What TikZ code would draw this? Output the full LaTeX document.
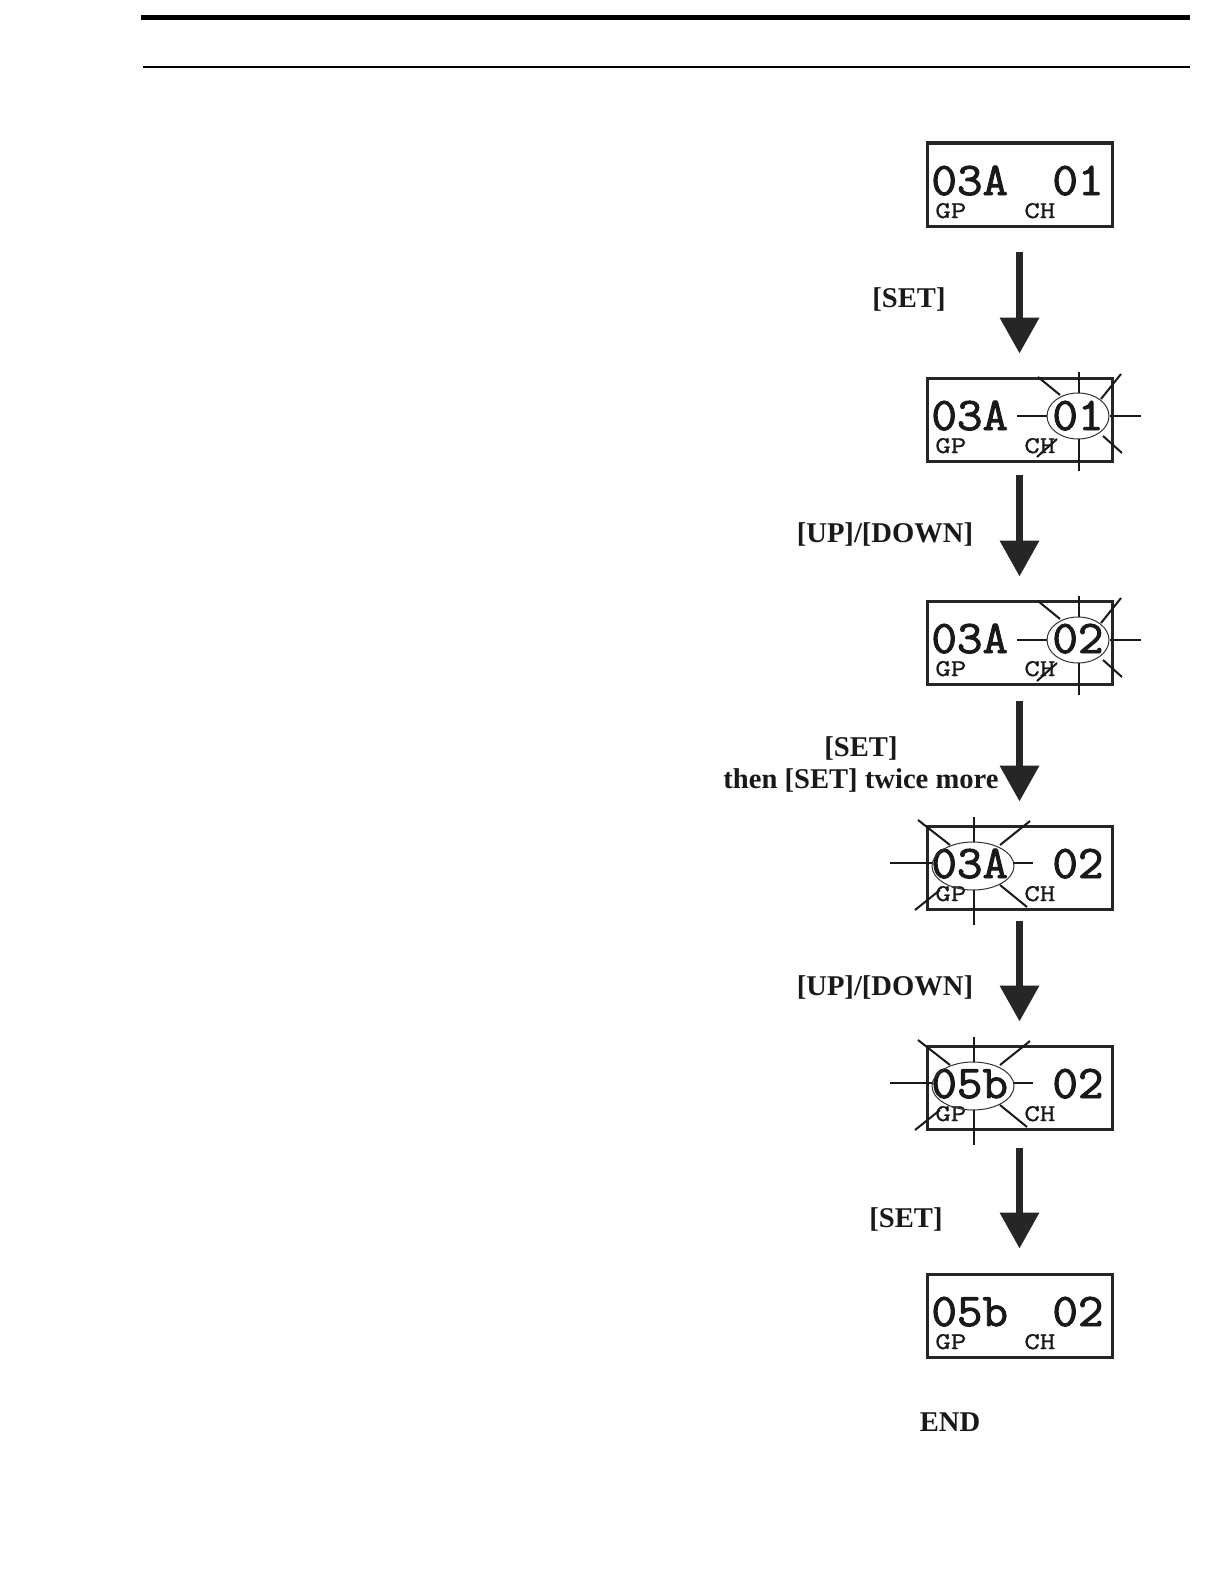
\documentclass[tikz,border=0pt]{standalone}
\usepackage{fontspec}
\setmainfont{Liberation Serif}
\newfontfamily\lcdfont{Latin Modern Mono}[FakeBold=2, FakeStretch=1.06]
\newfontfamily\lcdsmall{Latin Modern Mono}[FakeStretch=1.25, FakeBold=1]
\usetikzlibrary{arrows.meta}
\tikzset{
  lcd/.style={draw=black!85, line width=1.5pt, minimum width=92.5pt, minimum height=41.5pt, inner sep=0pt},
  big/.style={font=\lcdfont\fontsize{23.4pt}{23.4pt}\selectfont, inner sep=0pt, anchor=base west, text=black!90, text depth=0pt},
  small/.style={font=\lcdsmall\fontsize{12pt}{12pt}\selectfont, inner sep=0pt, anchor=base west, text=black!90, text height=7.2pt, text depth=0pt},
  lbl/.style={font=\bfseries\fontsize{14.3pt}{16pt}\selectfont, inner sep=0pt, anchor=base, text=black!90},
  flow/.style={line width=3.5pt, draw=black!85, -{Triangle[width=19pt,length=18pt]}},
  ray/.style={line width=1pt, draw=black!90},
  halo/.style={line width=0.5pt, draw=black!80}
}
\newcommand\lcdpanel[4]{%
  \node[lcd] (#1) at (1019.5,#2+41.5) {};
  \node[big] (#1-l) at (931,#2+52) {#3};
  \node[big] (#1-r) at (1052,#2+52) {#4};
  \node[small] (#1-gp) at (935,#2+75) {GP};
  \node[small] (#1-ch) at (1024,#2+75) {CH};}
\newcommand\blinkright[2]{%
  \begin{scope}[shift={(#1,#2)}]
    \draw[halo] (0,0) ellipse [x radius=15.5pt, y radius=11.5pt];
    \draw[ray] (-61,0) -- (-31,0);
    \draw[ray] (32,0) -- (63,0);
    \draw[ray] (1,-44) -- (1,-23);
    \draw[ray] (1,23) -- (1,55);
    \draw[ray] (-40,-39) -- (-18,-21);
    \draw[ray] (43,-42) -- (23,-17);
    \draw[ray] (25,20) -- (44,37);
    \draw[ray] (-41,41) -- (-21,23);
  \end{scope}}
\newcommand\blinkleft[2]{%
  \begin{scope}[shift={(#1,#2)}]
    \draw[halo] (0,0) ellipse [x radius=20.5pt, y radius=12pt];
    \draw[ray] (-83,-3) -- (-41,-3);
    \draw[ray] (41,-3) -- (60,-3);
    \draw[ray] (1,-49) -- (1,-24);
    \draw[ray] (1,24) -- (1,59);
    \draw[ray] (-55,-46) -- (-23,-21);
    \draw[ray] (57,-45) -- (27,-21);
    \draw[ray] (-58,44) -- (-33,24);
    \draw[ray] (27,19) -- (54,41);
  \end{scope}}
\begin{document}
\begin{tikzpicture}[x=0.5pt,y=-0.5pt]
\useasboundingbox[fill=white] (0,0) rectangle (1224,1584);
% header rules
\draw[line width=2.25pt] (141,17.5) -- (1190,17.5);
\draw[line width=0.75pt] (143,67) -- (1190,67);
% panels
\lcdpanel{b1}{143}{03A}{01}
\lcdpanel{b2}{378}{03A}{01}
\lcdpanel{b3}{601}{03A}{02}
\lcdpanel{b4}{826}{03A}{02}
\lcdpanel{b5}{1046}{05b}{02}
\lcdpanel{b6}{1274}{05b}{02}
% blinking marks
\blinkright{1078}{416}
\blinkright{1078}{640}
\blinkleft{973}{866}
\blinkleft{973}{1086}
% arrows
\draw[flow, shorten <=12pt, shorten >=11.5pt] (b1.south) -- (b2.north);
\draw[flow, shorten <=6pt, shorten >=11.5pt] (b2.south) -- (b3.north);
\draw[flow, shorten <=7.5pt, shorten >=11.5pt] (b3.south) -- (b4.north);
\draw[flow, shorten <=5pt, shorten >=11.5pt] (b4.south) -- (b5.north);
\draw[flow, shorten <=8.5pt, shorten >=12pt] (b5.south) -- (b6.north);
% labels
\node[lbl] (l1) at (909,307) {[SET]};
\node[lbl] (l2) at (885,542) {[UP]/[DOWN]};
\node[lbl] (l3a) at (861,756) {[SET]};
\node[lbl] (l3b) at (861,788) {then [SET] twice more};
\node[lbl] (l4) at (885,995) {[UP]/[DOWN]};
\node[lbl] (l5) at (906,1227) {[SET]};
\node[lbl] (lend) at (950,1431) {END};
\end{tikzpicture}
\end{document}
